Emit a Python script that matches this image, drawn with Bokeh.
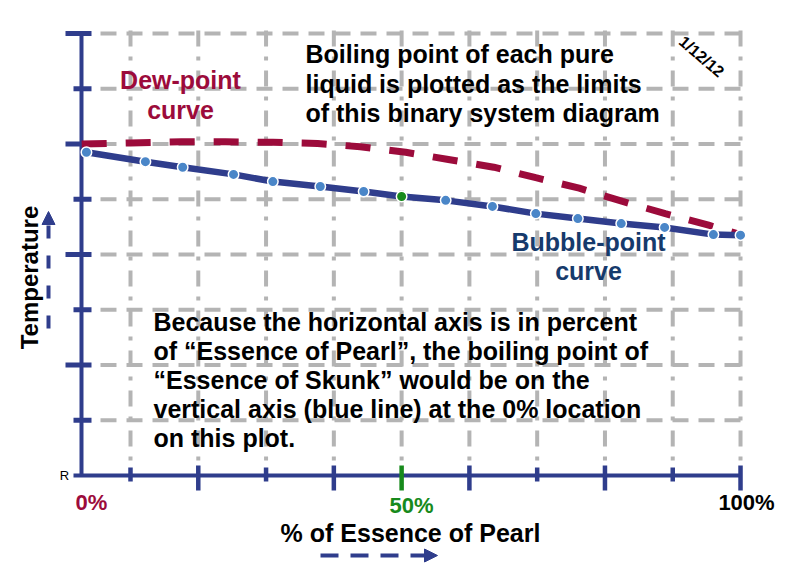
import math
from bokeh.plotting import figure
from bokeh.models import Range1d, Arrow, NormalHead
from bokeh.core.properties import value
from bokeh.embed import file_html
from bokeh.resources import INLINE

# ---------------- data ----------------
# horizontal scale: % of Essence of Pearl ; vertical: temperature (tick units)
X_TICKS = [10, 20, 30, 40, 50, 60, 70, 80, 90, 100]
X_TICK_LONG = [False, True, False, True, True, True, False, True, False, True]
Y_TICKS = [1, 2, 3, 4, 5, 6, 7, 8]
Y_TICK_LONG = [False, True, False, True, False, True, False, True]
AXIS_X = 2.77          # where the vertical (0 %) axis is drawn

BUBBLE_X = [3.5, 12.2, 17.7, 25.2, 31.0, 38.0, 44.4, 50.0, 56.5, 63.4,
            69.8, 76.0, 82.4, 88.8, 96.0, 100.0]
BUBBLE_Y = [5.85, 5.68, 5.58, 5.45, 5.32, 5.23, 5.14, 5.05, 4.98, 4.87,
            4.74, 4.65, 4.56, 4.49, 4.36, 4.35]

DEW_X = [2.8, 10.0, 17.5, 24.0, 31.0, 37.6, 43.9, 50.6, 56.9, 63.6,
         69.8, 76.2, 82.6, 88.9, 95.3, 100.0]
DEW_Y = [6.00, 6.02, 6.04, 6.04, 6.03, 6.01, 5.95, 5.85, 5.72, 5.58,
         5.39, 5.20, 4.96, 4.74, 4.53, 4.36]

X_LABELS = ["0%", "50%", "100%"]
X_LABEL_POS = [AXIS_X, 50, 100]

TOP_NOTE = ["Boiling point of each pure",
            "liquid is plotted as the limits",
            "of this binary system diagram"]
BOTTOM_NOTE = ["Because the horizontal axis is in percent",
               "of \u201cEssence of Pearl\u201d, the boiling point of",
               "\u201cEssence of Skunk\u201d would be on the",
               "vertical axis (blue line) at the 0% location",
               "on this plot."]
DEW_LABEL = ["Dew-point", "curve"]
BUBBLE_LABEL = ["Bubble-point", "curve"]
X_TITLE = "% of Essence of Pearl"
Y_TITLE = "Temperature"
DATE = "1/12/12"

# ---------------- styles ----------------
NAVY = "#2f3d8c"
DEWRED = "#9c0b3b"
GREEN = "#178a1c"
DOT = "#4a86c8"
BUBBLE_TXT = "#163a6c"
GRID = "#b4b4b4"
FONT = value("Liberation Sans")

W, H = 792, 564
OFF = 0        # canvas offset inside the photographed page
PX_X = 6.778   # px per %
PX_Y = 55.25   # px per temperature unit
X0 = 10 - (130 - OFF) / PX_X
X1 = X0 + W / PX_X
Y1 = 0 + (475 - OFF) / PX_Y
Y0 = Y1 - H / PX_Y


def X(px):
    return X0 + (px - OFF) / PX_X


def Y(py):
    return Y1 - (py - OFF) / PX_Y


def YB(baseline_px, fs):
    # vertical middle of a text line whose baseline sits at baseline_px
    return Y(baseline_px - 0.35 * fs)


p = figure(width=W, height=H, x_range=Range1d(X0, X1), y_range=Range1d(Y0, Y1),
           output_backend="svg", toolbar_location=None,
           x_axis_location=None, y_axis_location=None, min_border=0,
           outline_line_color=None, background_fill_color="white",
           border_fill_color="white")
p.xgrid.visible = False
p.ygrid.visible = False

# grid
p.segment(x0=[X(100)] * len(Y_TICKS), y0=Y_TICKS, x1=[X(742)] * len(Y_TICKS), y1=Y_TICKS,
          line_color=GRID, line_width=4, line_dash="16 10")
p.segment(x0=X_TICKS, y0=[Y(30)] * len(X_TICKS), x1=X_TICKS, y1=[Y(462)] * len(X_TICKS),
          line_color=GRID, line_width=4, line_dash="16 10 4 10")

# axes
p.segment(x0=[X(73)], y0=[0], x1=[100], y1=[0], line_color=NAVY, line_width=4)
p.segment(x0=[AXIS_X], y0=[0], x1=[AXIS_X], y1=[8], line_color=NAVY, line_width=4)

xt_top = [Y(465) if lg else Y(467) for lg in X_TICK_LONG]
xt_bot = [Y(490) if lg else Y(481) for lg in X_TICK_LONG]
xt_col = [GREEN if t == 50 else NAVY for t in X_TICKS]
p.segment(x0=X_TICKS, y0=xt_top, x1=X_TICKS, y1=xt_bot, line_color=xt_col, line_width=4.5)

yt_left = [X(65) if lg else X(73) for lg in Y_TICK_LONG]
p.segment(x0=yt_left, y0=Y_TICKS, x1=[X(91)] * len(Y_TICKS), y1=Y_TICKS,
          line_color=NAVY, line_width=5)

# curves
p.line(DEW_X, DEW_Y, line_color=DEWRED, line_width=7, line_dash="25 19")
p.line(BUBBLE_X, BUBBLE_Y, line_color=NAVY, line_width=6.5)
dot_col = [GREEN if x == 50 else DOT for x in BUBBLE_X]
p.scatter(BUBBLE_X, BUBBLE_Y, size=10.5, fill_color=dot_col, line_color="white", line_width=1.5)

common = dict(text_font=FONT, text_font_style="bold", text_baseline="middle")

# tick labels
p.text(x=X_LABEL_POS, y=[YB(510, 22), YB(513, 22), YB(510, 22)], text=X_LABELS,
       x_offset=[10, 10, 6], text_color=[DEWRED, GREEN, "black"],
       text_font_size="22px", text_align="center", **common)

# titles
p.text(x=[X(410)], y=[YB(541, 25)], text=[X_TITLE], text_font_size="25px",
       text_color="black", text_align="center", **common)
p.text(x=[X(37 - 0.35 * 24)], y=[Y(277)], text=[Y_TITLE], angle=math.pi / 2,
       text_font_size="24px", text_color="black", text_align="center", **common)

# arrows
p.add_layout(Arrow(end=NormalHead(size=13, fill_color=NAVY, line_color=NAVY),
                   x_start=X(320), y_start=Y(555), x_end=X(437), y_end=Y(555),
                   line_color=NAVY, line_width=4, line_dash="18 12"))
p.add_layout(Arrow(end=NormalHead(size=13, fill_color=NAVY, line_color=NAVY),
                   x_start=X(48), y_start=Y(328), x_end=X(48), y_end=Y(211),
                   line_color=NAVY, line_width=4, line_dash="13 17"))

# notes
p.text(x=[X(305)] * 3, y=[YB(b, 25) for b in (62, 92, 121)], text=TOP_NOTE,
       text_font_size="25px", text_color="black", text_align="left", **common)
p.text(x=[X(153)] * 5, y=[YB(b, 25) for b in (330, 359, 388, 417, 446)], text=BOTTOM_NOTE,
       text_font_size="25px", text_color="black", text_align="left", **common)
p.text(x=[X(180)] * 2, y=[YB(b, 25) for b in (88, 118)], text=DEW_LABEL,
       text_font_size="25px", text_color=DEWRED, text_align="center", **common)
p.text(x=[X(588)] * 2, y=[YB(b, 25) for b in (250, 279)], text=BUBBLE_LABEL,
       text_font_size="25px", text_color=BUBBLE_TXT, text_align="center", **common)
p.text(x=[X(701)], y=[Y(56)], text=[DATE], angle=-0.71, text_font_size="16px",
       text_color="black", text_align="center", **common)
p.text(x=[X(64)], y=[Y(475)], text=["R"], text_font=FONT, text_font_size="13px",
       text_color="black", text_align="center", text_baseline="middle")

open("out.html", "w").write(file_html(p, INLINE))
